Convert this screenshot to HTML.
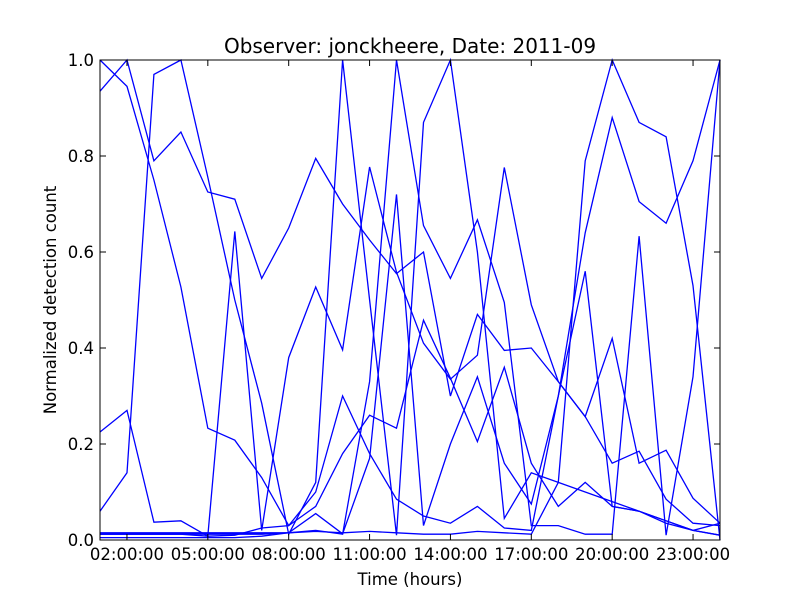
<!DOCTYPE html>
<html><head><meta charset="utf-8"><style>
body{margin:0;background:#fff;}
svg{display:block;font-family:"DejaVu Sans","Liberation Sans",sans-serif;}
</style></head><body>
<svg id="chart" width="800" height="600">
<rect width="800" height="600" fill="#fff"/>
<text x="410" y="53" font-size="20" text-anchor="middle">Observer: jonckheere, Date: 2011-09</text>
<text x="410" y="585" font-size="16.5" text-anchor="middle">Time (hours)</text>
<text x="56" y="300" font-size="16.5" text-anchor="middle" transform="rotate(-90 56 300)">Normalized detection count</text>
<g id="marks"></g>
<g id="axes"></g>
</svg>
<script>
const hours = [1,2,3,4,5,6,7,8,9,10,11,12,13,14,15,16,17,18,19,20,21,22,23,24];
const xTickHours = [2,5,8,11,14,17,20,23];
const xTickLabels = ["02:00:00","05:00:00","08:00:00","11:00:00","14:00:00","17:00:00","20:00:00","23:00:00"];
const yTicks = [0,0.2,0.4,0.6,0.8,1.0];
const yTickLabels = ["0.0","0.2","0.4","0.6","0.8","1.0"];
const s1 = [0.935,1.0,0.79,0.85,0.725,0.71,0.545,0.65,0.795,0.70,0.625,0.555,0.60,0.30,0.47,0.395,0.40,0.33,0.257,0.42,0.16,0.187,0.087,0.035];
const s2 = [1.0,0.945,0.75,0.527,0.233,0.208,0.13,0.03,0.07,0.18,0.26,0.233,0.458,0.337,0.205,0.36,0.16,0.07,0.12,0.07,0.06,0.04,0.02,0.01];
const s3 = [0.06,0.14,0.97,1.0,0.756,0.5,0.285,0.012,0.12,1.0,0.5,0.01,0.87,1.0,0.6,0.045,0.14,0.12,0.1,0.08,0.06,0.04,0.02,0.035];
const s4 = [0.225,0.27,0.037,0.04,0.008,0.643,0.02,0.38,0.527,0.396,0.777,0.558,0.41,0.335,0.385,0.776,0.49,0.33,0.257,0.16,0.185,0.085,0.035,0.03];
const s5 = [0.012,0.012,0.012,0.012,0.012,0.012,0.012,0.015,0.018,0.015,0.018,0.015,0.012,0.012,0.018,0.015,0.012,0.12,0.79,1.0,0.87,0.84,0.53,0.0];
const s6 = [0.012,0.012,0.012,0.012,0.008,0.01,0.025,0.03,0.10,0.30,0.18,0.085,0.05,0.035,0.07,0.025,0.02,0.3,0.64,0.88,0.705,0.66,0.79,1.0];
const s7 = [0.005,0.005,0.005,0.005,0.005,0.005,0.008,0.015,0.055,0.013,0.17,0.72,0.03,0.2,0.34,0.16,0.075,0.3,0.56,0.07,0.06,0.035,0.02,0.01];
const s8 = [0.015,0.015,0.015,0.015,0.015,0.015,0.015,0.015,0.02,0.012,0.33,1.0,0.655,0.545,0.667,0.495,0.03,0.03,0.012,0.012,0.633,0.01,0.34,1.0];
const seriesList = [s1,s2,s3,s4,s5,s6,s7,s8];

const L=100,R=720,T=60,B=540;
const xS = h => L + (h-1)/(24-1)*(R-L);
const yS = v => B - v*(B-T);
const NS="http://www.w3.org/2000/svg";
const marks=document.getElementById('marks');
const axes=document.getElementById('axes');

seriesList.forEach((s,i)=>{
  const p=document.createElementNS(NS,'polyline');
  p.setAttribute('points', s.map((v,j)=>xS(hours[j]).toFixed(1)+','+yS(v).toFixed(1)).join(' '));
  p.setAttribute('fill','none');
  p.setAttribute('stroke','#0000ff');
  p.setAttribute('stroke-width','1.3');
  
  
  marks.appendChild(p);
});

const frame=document.createElementNS(NS,'rect');
frame.setAttribute('x',L);frame.setAttribute('y',T);
frame.setAttribute('width',R-L);frame.setAttribute('height',B-T);
frame.setAttribute('fill','none');frame.setAttribute('stroke','#000');


axes.appendChild(frame);

function line(x1,y1,x2,y2,name){
  const l=document.createElementNS(NS,'line');
  l.setAttribute('x1',x1);l.setAttribute('y1',y1);l.setAttribute('x2',x2);l.setAttribute('y2',y2);
  l.setAttribute('stroke','#000');
  
  
  axes.appendChild(l);
}
function text(x,y,str,anchor,name){
  const t=document.createElementNS(NS,'text');
  t.setAttribute('x',x);t.setAttribute('y',y);
  t.setAttribute('font-size','16.5');t.setAttribute('text-anchor',anchor);
  t.textContent=str;
  
  
  axes.appendChild(t);
}
xTickHours.forEach((h,i)=>{
  const x=xS(h);
  line(x,B,x,B-6,'x-tick');
  line(x,T,x,T+6,'x-tick-top');
  text(x,B+20,xTickLabels[i],'middle','x-tick-label');
});
yTicks.forEach((v,i)=>{
  const y=yS(v);
  line(L,y,L+6,y,'y-tick');
  line(R,y,R-6,y,'y-tick-right');
  text(L-6,y+6,yTickLabels[i],'end','y-tick-label');
});
</script>
</body></html>
